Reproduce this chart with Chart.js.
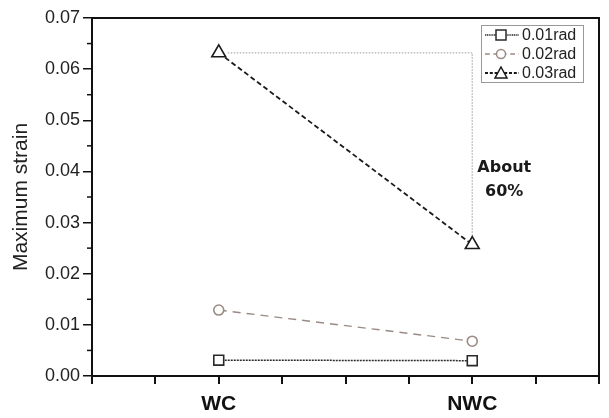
<!DOCTYPE html>
<html>
<head>
<meta charset="utf-8">
<script src="https://cdn.jsdelivr.net/npm/chart.js@4"></script>
<style>
  html, body { margin: 0; padding: 0; background: #fff; }
  #wrap { width: 609px; height: 418px; }
</style>
</head>
<body>
<div id="wrap"><canvas id="strainChart" width="609" height="418"></canvas></div>
<script>
// categories sit on a 0..8 linear axis, WC at 2 and NWC at 6
const categories = ["WC", "NWC"];
const categoryPos = [2, 6];
const seriesNames = ["0.01rad", "0.02rad", "0.03rad"];
const strain001 = [0.0031, 0.0030];
const strain002 = [0.0129, 0.0068];
const strain003 = [0.0632, 0.0257];
const yTicks = [0, 0.01, 0.02, 0.03, 0.04, 0.05, 0.06, 0.07];
const noteText = ["About", "60%"];

const toPoints = (vals) => vals.map((v, i) => ({ x: categoryPos[i], y: v }));

const styles = [
  { color: "#2a2a2a", dash: [2, 1], point: "rect", radius: 7, width: 1.5 },
  { color: "#9a8a84", dash: [8, 6], point: "circle", radius: 5, width: 1.4 },
  { color: "#1a1a1a", dash: [5, 3], point: "triangle", radius: 8, width: 1.8 }
];
const values = [strain001, strain002, strain003];

// frame, minor ticks, annotation and legend
const extras = {
  id: "extras",
  beforeDatasetsDraw(chart) {
    const { ctx, scales } = chart;
    const xs = scales.x, ys = scales.y;
    // dotted guide from WC peak over to NWC
    const xW = xs.getPixelForValue(categoryPos[0]);
    const xN = xs.getPixelForValue(categoryPos[1]);
    const yP = ys.getPixelForValue(strain003[0]);
    const yN = ys.getPixelForValue(strain003[1]);
    ctx.save();
    ctx.strokeStyle = "#b0b0b0";
    ctx.lineWidth = 1.3;
    ctx.setLineDash([1.5, 1.5]);
    ctx.beginPath();
    ctx.moveTo(xW + 9, yP);
    ctx.lineTo(xN, yP);
    ctx.lineTo(xN, yN - 8);
    ctx.stroke();
    ctx.restore();
  },
  afterDatasetsDraw(chart) {
    const { ctx, chartArea: a, scales } = chart;
    const xs = scales.x, ys = scales.y;
    ctx.save();

    // top/right frame
    ctx.strokeStyle = "#111";
    ctx.lineWidth = 2;
    ctx.beginPath();
    ctx.moveTo(a.left, a.top);
    ctx.lineTo(a.right, a.top);
    ctx.lineTo(a.right, a.bottom);
    ctx.stroke();

    // minor y ticks
    ctx.lineWidth = 1.5;
    for (let i = 0; i < yTicks.length - 1; i++) {
      const y = ys.getPixelForValue((yTicks[i] + yTicks[i + 1]) / 2);
      ctx.beginPath();
      ctx.moveTo(a.left - 5, y);
      ctx.lineTo(a.left, y);
      ctx.stroke();
    }

    const xN = xs.getPixelForValue(categoryPos[1]);
    ctx.fillStyle = "#1a1a1a";
    ctx.font = "bold 16px 'DejaVu Sans', sans-serif";
    ctx.textAlign = "center";
    ctx.textBaseline = "middle";
    ctx.fillText(noteText[0], xN + 32, 168);
    ctx.fillText(noteText[1], xN + 32, 192);

    // legend box
    const lx = 481, ly = 25, lw = 102, lh = 57, rowH = 19;
    ctx.fillStyle = "#fff";
    ctx.fillRect(lx, ly, lw, lh);
    ctx.strokeStyle = "#999";
    ctx.lineWidth = 1;
    ctx.strokeRect(lx + 0.5, ly + 0.5, lw, lh);
    ctx.font = "16px 'Liberation Sans', Arial, sans-serif";
    ctx.textAlign = "left";
    seriesNames.forEach((name, i) => {
      const s = styles[i];
      const cy = ly + 10 + i * rowH;
      ctx.strokeStyle = s.color;
      ctx.lineWidth = s.width;
      ctx.setLineDash(s.dash.map((d) => d * 0.6));
      ctx.beginPath();
      ctx.moveTo(lx + 4, cy);
      ctx.lineTo(lx + 38, cy);
      ctx.stroke();
      ctx.setLineDash([]);
      // marker
      const mx = lx + 20;
      ctx.fillStyle = "#fff";
      ctx.beginPath();
      if (s.point === "rect") ctx.rect(mx - 5, cy - 5, 10, 10);
      else if (s.point === "circle") ctx.arc(mx, cy, 4.5, 0, Math.PI * 2);
      else { ctx.moveTo(mx, cy - 6); ctx.lineTo(mx + 6, cy + 5); ctx.lineTo(mx - 6, cy + 5); ctx.closePath(); }
      ctx.fill();
      ctx.lineWidth = 1.5;
      ctx.stroke();
      ctx.fillStyle = "#222";
      ctx.fillText(name, lx + 41, cy + 1);
    });

    ctx.restore();
  }
};

new Chart(document.getElementById("strainChart"), {
  type: "line",
  data: {
    datasets: seriesNames.map((name, i) => ({
      label: name,
      data: toPoints(values[i]),
      borderColor: styles[i].color,
      borderWidth: styles[i].width,
      borderDash: styles[i].dash,
      pointStyle: styles[i].point,
      pointRadius: styles[i].radius,
      pointBackgroundColor: "#fff",
      pointBorderColor: styles[i].color,
      pointBorderWidth: 1.6,
      tension: 0
    }))
  },
  options: {
    responsive: false,
    animation: false,
    layout: { padding: { top: 18, right: 10, bottom: 0, left: 0 } },
    plugins: { legend: { display: false }, tooltip: { enabled: false } },
    scales: {
      x: {
        type: "linear",
        min: 0,
        max: 8,
        afterFit: (axis) => { axis.height = 42; },
        grid: { display: true, drawOnChartArea: false, color: "#111", lineWidth: 2, tickLength: 8 },
        border: { color: "#111", width: 2 },
        ticks: {
          stepSize: 1,
          autoSkip: false,
          maxRotation: 0,
          padding: 8,
          color: "#111",
          font: { family: "'Liberation Sans', Arial, sans-serif", size: 21, weight: "bold" },
          callback: (v) => {
            const idx = categoryPos.indexOf(v);
            return idx >= 0 ? categories[idx] : "";
          }
        }
      },
      y: {
        min: 0,
        max: 0.07,
        afterFit: (axis) => { axis.width = 92; },
        grid: { display: true, drawOnChartArea: false, color: "#111", lineWidth: 1.5, tickLength: 9 },
        border: { color: "#111", width: 2 },
        afterBuildTicks: (axis) => { axis.ticks = yTicks.map((v) => ({ value: v })); },
        ticks: {
          color: "#222",
          padding: 3,
          font: { family: "'Liberation Sans', Arial, sans-serif", size: 18 },
          callback: (v) => v.toFixed(2)
        },
        title: {
          display: true,
          text: "Maximum strain",
          color: "#222",
          padding: { top: 9, bottom: 0 },
          font: { family: "'Liberation Sans', Arial, sans-serif", size: 21 }
        }
      }
    }
  },
  plugins: [extras]
});
</script>
</body>
</html>
